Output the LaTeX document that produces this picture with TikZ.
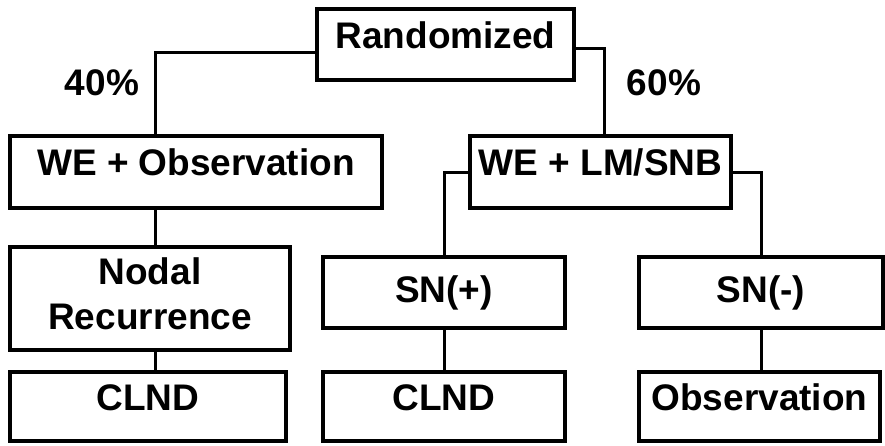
\documentclass[tikz,border=0pt]{standalone}
\usepackage{fontspec}
\setmainfont{Liberation Sans}
\usepackage{tikz}
\usetikzlibrary{calc}
\newcommand{\chartfont}{\fontsize{37pt}{45pt}\selectfont\bfseries}
\tikzset{
    box/.style={draw, line width=4.3pt, inner sep=0pt, font=\chartfont, align=center},
    upper/.style={text height=27pt, text depth=20pt},
    middle/.style={text height=27pt, text depth=8pt},
    link/.style={line width=3pt}
}
\begin{document}
\begin{tikzpicture}[x=1pt, y=-1pt]
        %FRAME
        \useasboundingbox (0,0) rectangle (885,445);
        %TOP
        \node[box, upper, minimum width=257pt, minimum height=71pt] (rand) at (445.5,44.5) {Randomized};
        \node[font=\chartfont] (pleft) at (102,82.5) {40\%};
        \node[font=\chartfont] (pright) at (664,82.5) {60\%};
        %ARMS
        \node[box, upper, minimum width=372pt, minimum height=72pt] (weobs) at (196,172) {WE + Observation};
        \node[box, upper, minimum width=261pt, minimum height=72pt] (welm) at (600.5,172) {WE + LM/SNB};
        %NODE STATUS
        \node[box, minimum width=280pt, minimum height=103pt] (nodal) at (150,298.5) {Nodal\\Recurrence\rule[-9pt]{0pt}{9pt}};
        \node[box, middle, minimum width=242pt, minimum height=71pt] (snpos) at (444,292.5) {SN(+)};
        \node[box, middle, minimum width=244pt, minimum height=71pt] (snneg) at (761,292.5) {SN(-)};
        %OUTCOME
        \node[box, upper, minimum width=276pt, minimum height=69pt] (clnda) at (148,406.5) {CLND};
        \node[box, upper, minimum width=242pt, minimum height=69pt] (clndb) at (444,406.5) {CLND};
        \node[box, upper, minimum width=241pt, minimum height=69pt] (obs) at (759.5,406.5) {Observation};
        %LINES
        \draw[link] ([yshift=-7.5pt]rand.west) -| ([xshift=-41pt]weobs.north);
        \draw[link] ([yshift=-3.5pt]rand.east) -| ([xshift=4pt]welm.north);
        \draw[link] (welm.west) -| (snpos.north);
        \draw[link] (welm.east) -| (snneg.north);
        \draw[link] ([xshift=5pt]nodal.north) -- ([xshift=5pt]nodal.north |- weobs.south);
        \draw[link] ([xshift=5pt]nodal.south) -- ([xshift=5pt]nodal.south |- clnda.north);
        \draw[link] (snpos.south) -- (clndb.north);
        \draw[link] (snneg.south) -- (snneg.south |- obs.north);
    \end{tikzpicture}
\end{document}
